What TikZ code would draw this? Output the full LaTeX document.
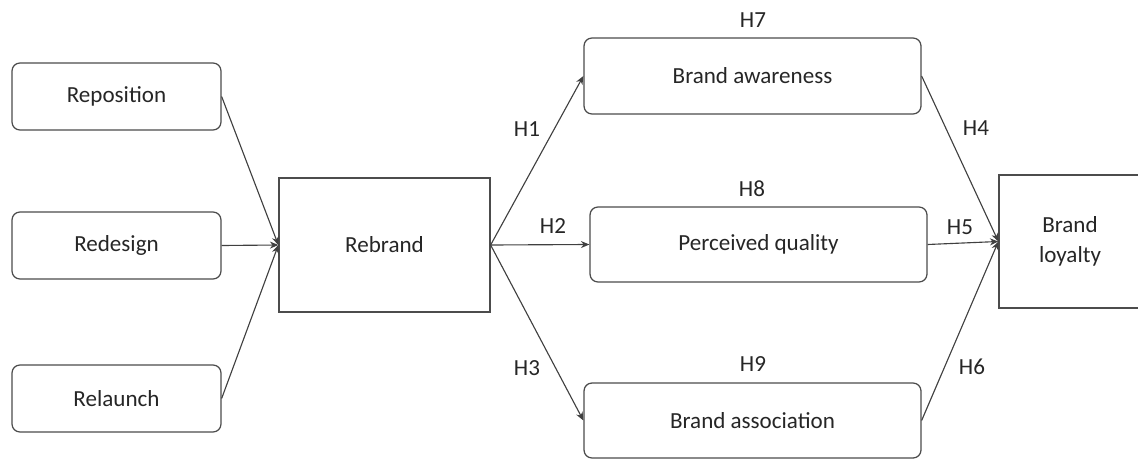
\documentclass[tikz,border=0pt]{standalone}
\usepackage{fontspec}
\setmainfont{Carlito}
\usetikzlibrary{arrows.meta}

\begin{document}
\begin{tikzpicture}[
>={Stealth[length=6pt,width=5pt]},
every node/.style={font=\fontsize{16.4}{21.3}\selectfont, text=black!85},
roundbox/.style={rounded corners=0.2cm, draw=black!70, line width=0.9pt, inner sep=0pt, minimum width=5.225cm, minimum height=1.675cm},
widebox/.style={roundbox, minimum width=8.425cm, minimum height=1.875cm},
squarebox/.style={draw=black!70, line width=0.9pt, inner sep=0pt, align=center},
link/.style={->, draw=black!75, line width=0.8pt},
]
\useasboundingbox (0,0) rectangle (28.45,11.475);
%Nodes
\node[roundbox] (reposition) at (2.9125,9.0625) {Reposition};
\node[roundbox] (redesign) at (2.9125,5.3375) {Redesign};
\node[roundbox] (relaunch) at (2.9125,1.5125) {Relaunch};
\node[squarebox, minimum width=5.275cm, minimum height=3.35cm] (rebrand) at (9.6125,5.35) {Rebrand};
\node[widebox, minimum height=1.9cm] (awareness) at (18.8125,9.575) {Brand awareness};
\node[widebox] (quality) at (18.9625,5.3625) {Perceived quality};
\node[widebox] (association) at (18.8125,0.9625) {Brand association};
\node[squarebox, minimum width=3.55cm, minimum height=3.325cm] (loyalty) at (26.75,5.4375) {Brand\\loyalty};

%Labels
\node (h1) at (13.175,8.25) {H1};
\node (h2) at (13.825,5.825) {H2};
\node (h3) at (13.175,2.275) {H3};
\node (h4) at (24.4,8.275) {H4};
\node (h5) at (24.0,5.8) {H5};
\node (h6) at (24.3,2.3) {H6};
\node (h7) at (18.825,10.975) {H7};
\node (h8) at (18.8,6.75) {H8};
\node (h9) at (18.825,2.375) {H9};

%Lines
\draw[link] (reposition.east) -- (rebrand.west);
\draw[link] (redesign.east) -- (rebrand.west);
\draw[link] (relaunch.east) -- (rebrand.west);
\draw[link] (rebrand.east) -- (awareness.west);
\draw[link] (rebrand.east) -- (quality.west);
\draw[link] (rebrand.east) -- (association.west);
\draw[link] (awareness.east) -- (loyalty.west);
\draw[link] (quality.east) -- (loyalty.west);
\draw[link] (association.east) -- (loyalty.west);

\end{tikzpicture}
\end{document}
